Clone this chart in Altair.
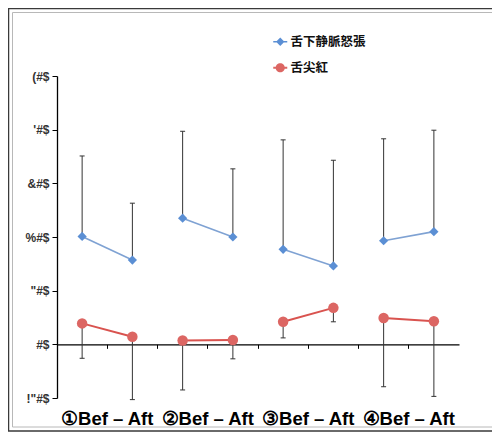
import json
import altair as alt
import pandas as pd

cats = ["c1", "c2", "c3", "c4", "c5", "c6", "c7", "c8"]
pairs = ["p1", "p1", "p2", "p2", "p3", "p3", "p4", "p4"]
pair_first = ["c1", "c3", "c5", "c7"]
pair_labels = ["①Bef – Aft", "②Bef – Aft", "③Bef – Aft", "④Bef – Aft"]

series_names = ["舌下静脈怒張", "舌尖紅"]
blue_vals = [2.01, 1.57, 2.35, 2.00, 1.77, 1.46, 1.93, 2.10]
blue_upper = [3.51, 2.63, 3.97, 3.27, 3.81, 3.43, 3.83, 3.99]
red_vals = [0.39, 0.14, 0.07, 0.08, 0.42, 0.68, 0.49, 0.43]
red_lower = [-0.26, -1.03, -0.85, -0.27, 0.12, 0.42, -0.79, -0.97]

y_ticks = [-1, 0, 1, 2, 3, 4, 5]
y_tick_labels = ['!"#$', "#$", '"#$', "%#$", "&#$", "'#$", "(#$"]

BLUE = "#5b8fd4"
BLUE_LINE = "#7fa2d3"
RED = "#dc6663"
RED_LINE = "#d9534f"

rows = []
for i, c in enumerate(cats):
    rows.append({"cat": c, "pair": pairs[i], "series": series_names[0],
                 "value": blue_vals[i], "err": blue_upper[i]})
    rows.append({"cat": c, "pair": pairs[i], "series": series_names[1],
                 "value": red_vals[i], "err": red_lower[i]})
df = pd.DataFrame(rows)
lab_df = pd.DataFrame({"cat": pair_first, "label": pair_labels})
frame_df = pd.DataFrame({"k": [0]})

W, H = 402, 322

label_expr = " : ".join(
    f"datum.value == {v} ? {json.dumps(t)}" for v, t in zip(y_ticks, y_tick_labels)
) + " : ''"

x_axis = alt.Axis(orient="bottom", offset=-H * 1 / 6, labels=False, title=None,
                  grid=False, domain=True, domainColor="#000", domainWidth=1.3,
                  ticks=True, tickColor="#000", tickSize=4, tickWidth=1, bandPosition=0)
y_axis = alt.Axis(orient="left", values=y_ticks, labelExpr=label_expr, title=None, grid=False,
                  domain=True, domainColor="#000", domainWidth=1.3, ticks=True,
                  tickColor="#000", tickSize=5, tickWidth=1, labelFont="Liberation Sans",
                  labelFontSize=12, labelFontWeight="bold", labelColor="#333", labelPadding=3)
x_scale = alt.Scale(domain=cats, paddingInner=0, paddingOuter=0)
y_scale = alt.Scale(domain=[-1, 5], nice=False)

X = alt.X("cat:N", scale=x_scale, axis=x_axis)
Y = alt.Y("value:Q", scale=y_scale, axis=y_axis)

base = alt.Chart(df)

frame_outer = alt.Chart(frame_df).mark_rect(fillOpacity=0, stroke="#3a3a3a", strokeWidth=1.5).encode(
    x=alt.value(-48.5), x2=alt.value(700), y=alt.value(-67.5), y2=alt.value(355))
frame_inner = alt.Chart(frame_df).mark_rect(fillOpacity=0, stroke="#b8b8b8", strokeWidth=1).encode(
    x=alt.value(-44.5), x2=alt.value(700), y=alt.value(-63.5), y2=alt.value(351))

rules = base.mark_rule(color="#333", strokeWidth=1).encode(x=X, y=Y, y2="err:Q")
caps = base.mark_tick(orient="horizontal", size=5, thickness=1, color="#333", opacity=1).encode(
    x=X, y=alt.Y("err:Q", scale=y_scale, axis=y_axis))

blue_line = base.transform_filter(alt.datum.series == series_names[0]).mark_line(
    color=BLUE_LINE, strokeWidth=1.6).encode(x=X, y=Y, detail="pair:N")
red_line = base.transform_filter(alt.datum.series == series_names[1]).mark_line(
    color=RED_LINE, strokeWidth=2).encode(x=X, y=Y, detail="pair:N")

blue_pts = base.transform_filter(alt.datum.series == series_names[0]).mark_point(
    shape="diamond", filled=True, color=BLUE, size=85, opacity=1).encode(x=X, y=Y)
red_pts = base.transform_filter(alt.datum.series == series_names[1]).mark_point(
    shape="circle", filled=True, color=RED, size=110, opacity=1).encode(x=X, y=Y)

diamond_path = "M-1.75,-0.2H1.75V0.2H-1.75Z M0,-1.05L1.05,0L0,1.05L-1.05,0Z"
circle_path = "M-1.75,-0.22H1.75V0.22H-1.75Z M-1.15,0A1.15,1.15 0 1,1 1.15,0A1.15,1.15 0 1,1 -1.15,0Z"

legend_layer = base.transform_filter("false").mark_point(filled=True, opacity=1).encode(
    x=X, y=Y,
    color=alt.Color("series:N", scale=alt.Scale(domain=series_names, range=[BLUE, RED]),
                    legend=alt.Legend(title=None, orient="none", legendX=217, legendY=-40.5,
                                      symbolSize=64, symbolOpacity=1, symbolStrokeWidth=0,
                                      labelOffset=4, rowPadding=13, padding=0,
                                      labelFont="Noto Sans CJK JP", labelFontSize=12.5,
                                      labelFontWeight="bold", labelColor="#111")),
    shape=alt.Shape("series:N", scale=alt.Scale(domain=series_names,
                                                range=[diamond_path, circle_path])),
)

labels = alt.Chart(lab_df).mark_text(font="Liberation Sans", fontSize=18.5, fontWeight="bold",
                                      color="#000", dy=21, baseline="middle").encode(
    x=alt.X("cat:N", scale=x_scale, axis=x_axis, bandPosition=1),
    y=alt.YDatum(-1, scale=y_scale, axis=y_axis, type="quantitative"),
    text="label:N",
)

chart = alt.layer(
    frame_outer, frame_inner, rules, caps, blue_line, red_line, blue_pts, red_pts,
    legend_layer, labels,
).properties(
    width=W, height=H,
    background="white",
    autosize=alt.AutoSizeParams(type="none"),
    padding={"left": 49, "top": 68, "right": 33, "bottom": 34},
).configure_view(strokeWidth=0)

chart.save("out.html", embed_options={"renderer": "svg", "actions": False})
